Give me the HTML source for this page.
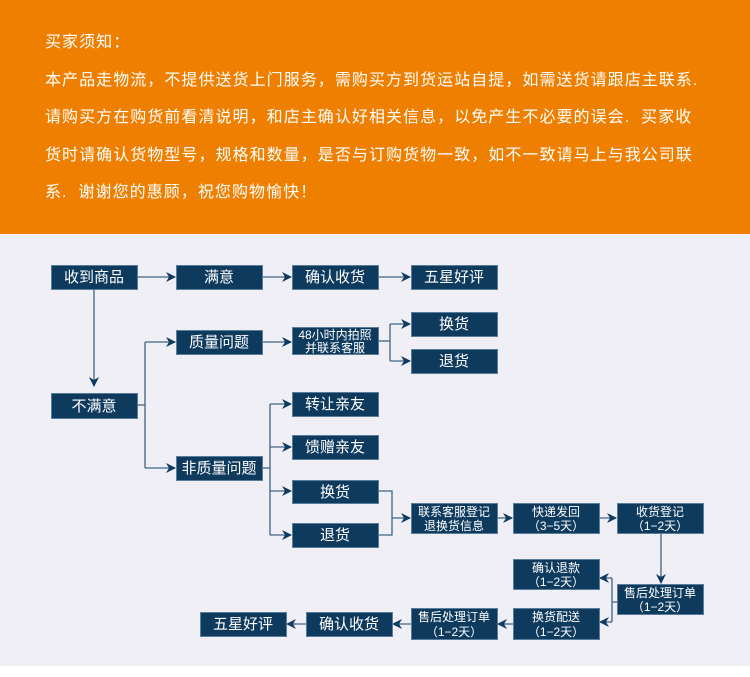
<!DOCTYPE html>
<html><head><meta charset="utf-8"><style>
body{margin:0;width:750px;height:677px;overflow:hidden;background:#fff;font-family:"Liberation Sans","Noto Sans CJK SC",sans-serif}
#top{position:absolute;left:0;top:0;width:750px;height:234px;background:#ef7f00}
.t{position:absolute;left:45px;color:#fff;font-size:16px;letter-spacing:1.05px;white-space:nowrap;line-height:20px}
#bg{position:absolute;left:0;top:234px;width:750px;height:432px;background:#f0eff5}
svg{position:absolute;left:0;top:0}
</style></head><body>
<div id="top"></div>
<div class="t" style="top:33px">买家须知：</div>
<div class="t" style="top:71px">本产品走物流，不提供送货上门服务，需购买方到货运站自提，如需送货请跟店主联系.</div>
<div class="t" style="top:108px">请购买方在购货前看清说明，和店主确认好相关信息，以免产生不必要的误会.&nbsp;&nbsp;买家收</div>
<div class="t" style="top:146px">货时请确认货物型号，规格和数量，是否与订购货物一致，如不一致请马上与我公司联</div>
<div class="t" style="top:183px">系.&nbsp;&nbsp;谢谢您的惠顾，祝您购物愉快！</div>
<div id="bg"></div>
<svg width="750" height="677" viewBox="0 0 750 677">
<defs><marker id="a" markerWidth="10" markerHeight="10" refX="9" refY="5" orient="auto" markerUnits="userSpaceOnUse"><path d="M0,0 L10,5 L0,10 L3,5 Z" fill="#0e3a5e"/></marker></defs>
<g stroke="#3d6486" stroke-width="1.3" fill="none">
<line x1="138" y1="277" x2="175" y2="277" marker-end="url(#a)"/>
<line x1="262" y1="277" x2="291" y2="277" marker-end="url(#a)"/>
<line x1="379" y1="277" x2="410" y2="277" marker-end="url(#a)"/>
<line x1="94" y1="289" x2="94" y2="386" marker-end="url(#a)"/>
<line x1="138" y1="405" x2="145" y2="405"/>
<line x1="145" y1="342" x2="145" y2="468"/>
<line x1="145" y1="342" x2="175" y2="342" marker-end="url(#a)"/>
<line x1="145" y1="468" x2="175" y2="468" marker-end="url(#a)"/>
<line x1="262" y1="342" x2="291" y2="342" marker-end="url(#a)"/>
<line x1="379" y1="341" x2="390" y2="341"/>
<line x1="390" y1="324" x2="390" y2="361"/>
<line x1="390" y1="324" x2="410" y2="324" marker-end="url(#a)"/>
<line x1="390" y1="361" x2="410" y2="361" marker-end="url(#a)"/>
<line x1="262" y1="468" x2="270" y2="468"/>
<line x1="270" y1="404" x2="270" y2="535"/>
<line x1="270" y1="404" x2="291" y2="404" marker-end="url(#a)"/>
<line x1="270" y1="447" x2="291" y2="447" marker-end="url(#a)"/>
<line x1="270" y1="491" x2="291" y2="491" marker-end="url(#a)"/>
<line x1="270" y1="535" x2="291" y2="535" marker-end="url(#a)"/>
<polyline points="379,491 392,491 392,535 379,535"/>
<line x1="392" y1="518" x2="410" y2="518" marker-end="url(#a)"/>
<line x1="497" y1="518" x2="512" y2="518" marker-end="url(#a)"/>
<line x1="599" y1="518" x2="616" y2="518" marker-end="url(#a)"/>
<line x1="661" y1="533" x2="661" y2="583" marker-end="url(#a)"/>
<line x1="617" y1="602" x2="612" y2="602"/>
<line x1="612" y1="578" x2="612" y2="622"/>
<line x1="612" y1="578" x2="600" y2="578" marker-end="url(#a)"/>
<line x1="612" y1="622" x2="600" y2="622" marker-end="url(#a)"/>
<line x1="513" y1="624" x2="498" y2="624" marker-end="url(#a)"/>
<line x1="411" y1="624" x2="393" y2="624" marker-end="url(#a)"/>
<line x1="306" y1="624" x2="287" y2="624" marker-end="url(#a)"/>
</g>
<g fill="#0e3a5e" stroke="#5a7d9c" stroke-width="1">
<rect x="51.5" y="265.5" width="86" height="24"/>
<rect x="176.5" y="265.5" width="86" height="24"/>
<rect x="292.5" y="265.5" width="86" height="24"/>
<rect x="411.5" y="265.5" width="86" height="24"/>
<rect x="176.5" y="330.5" width="86" height="24"/>
<rect x="292.5" y="327.5" width="86" height="27"/>
<rect x="411.5" y="312.5" width="86" height="24"/>
<rect x="411.5" y="349.5" width="86" height="24"/>
<rect x="51.5" y="393.5" width="86" height="25"/>
<rect x="292.5" y="392.5" width="86" height="24"/>
<rect x="292.5" y="435.5" width="86" height="24"/>
<rect x="176.5" y="456.5" width="86" height="24"/>
<rect x="292.5" y="480.5" width="86" height="23"/>
<rect x="292.5" y="523.5" width="86" height="24"/>
<rect x="411.5" y="503.5" width="86" height="30"/>
<rect x="513.5" y="503.5" width="86" height="30"/>
<rect x="617.5" y="503.5" width="86" height="30"/>
<rect x="513.5" y="559.5" width="86" height="30"/>
<rect x="617.5" y="584.5" width="86" height="30"/>
<rect x="513.5" y="608.5" width="86" height="31"/>
<rect x="411.5" y="608.5" width="86" height="31"/>
<rect x="306.5" y="612.5" width="86" height="24"/>
<rect x="200.5" y="612.5" width="86" height="24"/>
</g>
<g fill="#fff" font-family="Liberation Sans,Noto Sans CJK SC,sans-serif" text-anchor="middle" font-size="15">
<text x="94" y="282">收到商品</text>
<text x="219" y="282">满意</text>
<text x="335" y="282">确认收货</text>
<text x="454" y="282">五星好评</text>
<text x="219" y="347">质量问题</text>
<text x="454" y="329">换货</text>
<text x="454" y="366">退货</text>
<text x="94" y="411">不满意</text>
<text x="335" y="409">转让亲友</text>
<text x="335" y="452">馈赠亲友</text>
<text x="219" y="473">非质量问题</text>
<text x="335" y="497">换货</text>
<text x="335" y="540">退货</text>
<text x="349" y="629">确认收货</text>
<text x="243" y="629">五星好评</text>
</g>
<g fill="#fff" font-family="Liberation Sans,Noto Sans CJK SC,sans-serif" text-anchor="middle" font-size="12">
<text x="335" y="339">48小时内拍照</text><text x="335" y="352">并联系客服</text>
<text x="454" y="516">联系客服登记</text><text x="454" y="530">退换货信息</text>
<text x="556" y="516">快递发回</text><text x="556" y="530">（3−5天）</text>
<text x="660" y="516">收货登记</text><text x="660" y="530">（1−2天）</text>
<text x="556" y="572">确认退款</text><text x="556" y="586">（1−2天）</text>
<text x="660" y="597">售后处理订单</text><text x="660" y="611">（1−2天）</text>
<text x="556" y="621">换货配送</text><text x="556" y="636">（1−2天）</text>
<text x="454" y="621">售后处理订单</text><text x="454" y="636">（1−2天）</text>
</g>
</svg>
</body></html>
